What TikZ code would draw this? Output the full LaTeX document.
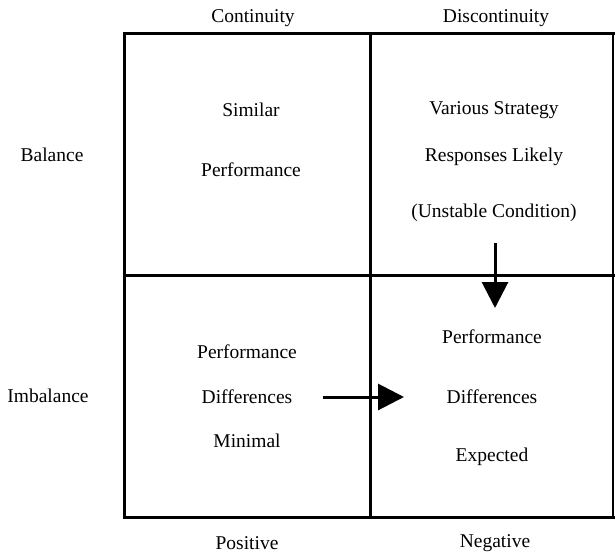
\documentclass[tikz,border=0pt]{standalone}
\usepackage{fontspec}
\setmainfont{Liberation Serif}
\usetikzlibrary{arrows.meta}
\begin{document}
\begin{tikzpicture}[x=1pt,y=-1pt,
  lbl/.style={font=\fontsize{19.5}{22}\selectfont, inner sep=0pt, anchor=center},
  frame/.style={line width=3pt, line cap=rect},
  thinframe/.style={line width=1.6pt},
  bigarrow/.style={line width=3pt, -{Triangle[length=26pt,width=26pt]}}]
\useasboundingbox (0,0) rectangle (615,556);
% grid
\coordinate (tl) at (124,34);
\coordinate (tr) at (613,34);
\coordinate (bl) at (124,517);
\coordinate (br) at (613,517);
\coordinate (mt) at (370,34);
\coordinate (mb) at (370,517);
\coordinate (ml) at (124,275);
\coordinate (mr) at (613,275);
\draw[frame] (tr) -- (tl) -- (bl) -- (br);
\draw[thinframe] (tr) -- (br);
\draw[frame] (mt) -- (mb);
\draw[frame] (ml) -- (mr);
% headers
\node[lbl] (cont) at (253,18) {Continuity};
\node[lbl] (disc) at (496,18) {Discontinuity};
\node[lbl] (bal) at (52,155) {Balance};
\node[lbl] (imb) at (48,396) {Imbalance};
\node[lbl] (pos) at (247,543) {Positive};
\node[lbl] (neg) at (495,543) {Negative};
% cells
\node[lbl] (sim1) at (251,110) {Similar};
\node[lbl] (sim2) at (251,170) {Performance};
\node[lbl] (var1) at (494,110) {Various Strategy};
\node[lbl] (var2) at (494,157) {Responses Likely};
\node[lbl] (var3) at (494,213) {(Unstable Condition)};
\node[lbl] (pd1) at (247,352) {Performance};
\node[lbl] (pd2) at (247,397) {Differences};
\node[lbl] (pd3) at (247,441) {Minimal};
\node[lbl] (ex1) at (492,337) {Performance};
\node[lbl] (ex2) at (492,397) {Differences};
\node[lbl] (ex3) at (492,457) {Expected};
% arrows
\coordinate (va) at (495,243);
\coordinate (vb) at (495,308);
\coordinate (ha) at (323,397);
\coordinate (hb) at (404,397);
\draw[bigarrow] (va) -- (vb);
\draw[bigarrow] (ha) -- (hb);
\end{tikzpicture}
\end{document}
